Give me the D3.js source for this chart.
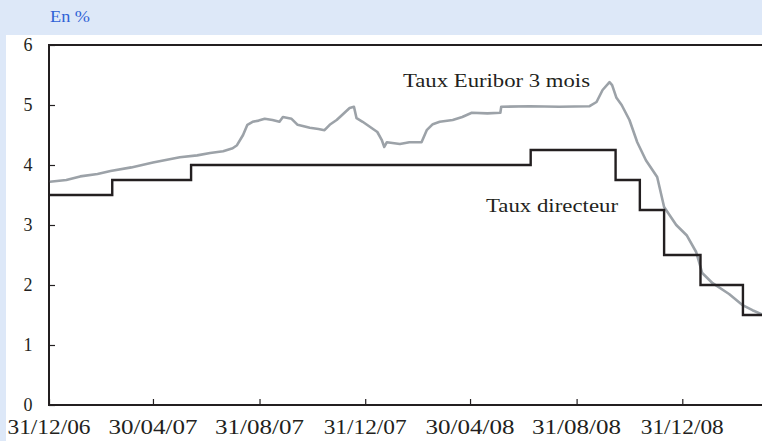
<!DOCTYPE html>
<html>
<head>
<meta charset="utf-8">
<script src="https://cdn.jsdelivr.net/npm/d3@7"></script>
<style>
  html, body { margin: 0; padding: 0; background: #dde8f8; }
  svg { display: block; }
  svg text { font-family: "Times New Roman", Times, "Liberation Serif", Tinos, "DejaVu Serif", "Noto Serif", FreeSerif, serif; }
</style>
</head>
<body>
<svg id="chart" width="762" height="441"></svg>
<script>
// ---- data ----
const unitLabel = "En %";
const xTickDates = ["2006-12-31","2007-04-30","2007-08-31","2007-12-31","2008-04-30","2008-08-31","2008-12-31"];
const xTickLabels = ["31/12/06","30/04/07","31/08/07","31/12/07","30/04/08","31/08/08","31/12/08"];
const yTicks = [0, 1, 2, 3, 4, 5, 6];

// Taux directeur (step changes)
const refiDates = ["2006-12-31","2007-03-14","2007-06-13","2008-07-09","2008-10-15","2008-11-12","2008-12-10","2009-01-21","2009-03-11","2009-04-02"];
const refiRates = [3.5, 3.75, 4.0, 4.25, 3.75, 3.25, 2.5, 2.0, 1.5, 1.5];

// Taux Euribor 3 mois
const euriborDates = [
  "2007-01-01","2007-01-20","2007-02-05","2007-02-25","2007-03-12","2007-04-05","2007-04-30","2007-05-31",
  "2007-06-20","2007-07-05","2007-07-20","2007-07-31","2007-08-05",
  "2007-08-12","2007-08-17","2007-08-23","2007-08-30","2007-09-06","2007-09-15","2007-09-23","2007-09-27","2007-10-07","2007-10-14",
  "2007-10-28","2007-11-07","2007-11-14","2007-11-20","2007-11-28","2007-12-04","2007-12-13","2007-12-18","2007-12-21",
  "2007-12-28","2008-01-02","2008-01-14","2008-01-19","2008-01-22","2008-01-25","2008-02-09","2008-02-20",
  "2008-03-05","2008-03-11","2008-03-18","2008-03-26","2008-04-10","2008-04-21","2008-05-02","2008-05-20","2008-06-04",
  "2008-06-05","2008-07-08","2008-08-11","2008-09-15","2008-09-23","2008-09-30","2008-10-08","2008-10-11",
  "2008-10-16","2008-10-22","2008-10-31","2008-11-09","2008-11-19","2008-12-02","2008-12-10","2008-12-24",
  "2009-01-05","2009-01-16","2009-01-23","2009-02-04","2009-02-23","2009-03-10","2009-03-22","2009-04-02"
];
const euriborRates = [
  3.72, 3.75, 3.81, 3.85, 3.90, 3.96, 4.04, 4.13,
  4.16, 4.20, 4.23, 4.28, 4.33,
  4.50, 4.67, 4.72, 4.74, 4.77, 4.75, 4.72, 4.80, 4.77, 4.67,
  4.62, 4.60, 4.58, 4.67, 4.75, 4.83, 4.95, 4.97, 4.78,
  4.72, 4.67, 4.55, 4.42, 4.30, 4.38, 4.35, 4.38,
  4.38, 4.58, 4.68, 4.72, 4.75, 4.80, 4.87, 4.86, 4.87,
  4.97, 4.98, 4.97, 4.98, 5.05, 5.25, 5.38, 5.33,
  5.12, 5.00, 4.75, 4.38, 4.08, 3.80, 3.30, 3.00,
  2.83, 2.55, 2.20, 2.03, 1.85, 1.67, 1.58, 1.51
];

// ---- drawing ----
const parse = d3.utcParse("%Y-%m-%d");
const svg = d3.select("#chart");

// white panel
svg.append("rect").attr("x", 6).attr("y", 35).attr("width", 756).attr("height", 406).attr("fill", "#ffffff");

svg.append("text").attr("x", 50).attr("y", 22)
  .attr("font-size", 16).attr("fill", "#2f62d6")
  .attr("textLength", 40).attr("lengthAdjust", "spacingAndGlyphs").text(unitLabel);

const x = d3.scaleUtc().domain([parse("2006-12-31"), parse("2009-04-02")]).range([49, 762]);
const y = d3.scaleLinear().domain([0, 6]).range([405, 45]);

const axisColor = "#231f20";

// y axis with inward ticks
const yAxis = svg.append("g").attr("transform", "translate(49,0)")
  .call(d3.axisRight(y).tickValues(yTicks).tickSize(6).tickFormat(""));
yAxis.select(".domain").remove();
yAxis.selectAll("line").attr("stroke", axisColor).attr("stroke-width", 1.2);
svg.append("g").selectAll("text").data(yTicks).join("text")
  .attr("x", 28).attr("y", d => y(d) + 6)
  .attr("text-anchor", "middle").attr("font-size", 18).attr("fill", axisColor)
  .text(d => d);

// x axis with inward ticks
const xAxis = svg.append("g").attr("transform", "translate(0,405)")
  .call(d3.axisTop(x).tickValues(xTickDates.map(parse)).tickSize(6).tickFormat(""));
xAxis.select(".domain").remove();
xAxis.selectAll("line").attr("stroke", axisColor).attr("stroke-width", 1.2);
svg.append("g").selectAll("text").data(xTickDates).join("text")
  .attr("x", d => x(parse(d))).attr("y", 434)
  .attr("text-anchor", "middle").attr("font-size", 20).attr("fill", axisColor)
  .attr("textLength", (d, i) => xTickLabels[i].startsWith("31/1") ? 83 : 89)
  .attr("lengthAdjust", "spacingAndGlyphs")
  .text((d, i) => xTickLabels[i]);

// frame lines
svg.append("line").attr("x1", 49).attr("x2", 762).attr("y1", y(0)).attr("y2", y(0))
  .attr("stroke", axisColor).attr("stroke-width", 2);
svg.append("line").attr("x1", 49).attr("x2", 762).attr("y1", y(6)).attr("y2", y(6))
  .attr("stroke", axisColor).attr("stroke-width", 2);
svg.append("line").attr("x1", 49).attr("x2", 49).attr("y1", y(6) - 1).attr("y2", y(0) + 1)
  .attr("stroke", axisColor).attr("stroke-width", 2);

// Euribor line
const euribor = euriborDates.map((d, i) => ({ date: parse(d), v: euriborRates[i] }));
svg.append("path").datum(euribor)
  .attr("fill", "none").attr("stroke", "#9ca2a8").attr("stroke-width", 2.6)
  .attr("stroke-linejoin", "round")
  .attr("d", d3.line().x(d => x(d.date)).y(d => y(d.v)));

// Taux directeur step line
const refi = refiDates.map((d, i) => ({ date: parse(d), v: refiRates[i] }));
svg.append("path").datum(refi)
  .attr("fill", "none").attr("stroke", "#231f20").attr("stroke-width", 2.4)
  .attr("d", d3.line().curve(d3.curveStepAfter).x(d => x(d.date)).y(d => y(d.v)));

// annotations
svg.append("text").attr("x", 403).attr("y", 87).attr("font-size", 18).attr("fill", axisColor)
  .attr("textLength", 187).attr("lengthAdjust", "spacingAndGlyphs")
  .text("Taux Euribor 3 mois");
svg.append("text").attr("x", 486).attr("y", 212).attr("font-size", 18).attr("fill", axisColor)
  .attr("textLength", 132).attr("lengthAdjust", "spacingAndGlyphs")
  .text("Taux directeur");
</script>
</body>
</html>
